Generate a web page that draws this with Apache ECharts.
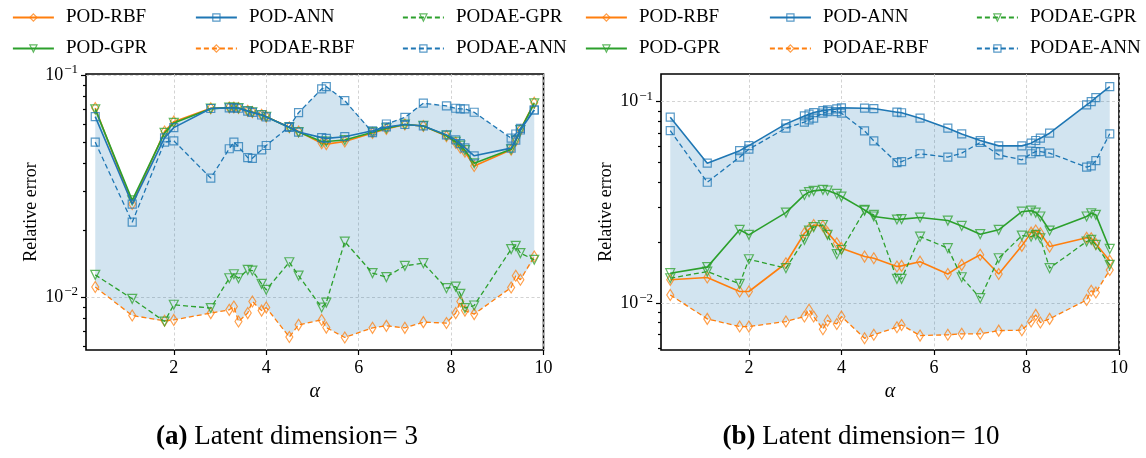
<!DOCTYPE html>
<html><head><meta charset="utf-8">
<script src="https://cdn.jsdelivr.net/npm/echarts@6/dist/echarts.min.js"></script>
<style>html,body{margin:0;padding:0;background:#fff}#c{width:1146px;height:458px}</style>
</head><body><div id="c"></div>
<script>
// ---------- data ----------
const alpha = [0.3, 1.1, 1.8, 2.0, 2.8, 3.2, 3.3, 3.4, 3.6, 3.7, 3.9, 4.0, 4.5, 4.7, 5.2, 5.3, 5.7, 6.3, 6.6, 7.0, 7.4, 7.9, 8.1, 8.2, 8.3, 8.5, 9.3, 9.4, 9.5, 9.8];
const seriesNames = ['POD-RBF', 'POD-GPR', 'POD-ANN', 'PODAE-RBF', 'PODAE-GPR', 'PODAE-ANN'];

// latent dimension = 3
const POD_RBF_3 = [0.0710, 0.0262, 0.0556, 0.0616, 0.0708, 0.0713, 0.0713, 0.0710, 0.0689, 0.0680, 0.0661, 0.0649, 0.0581, 0.0556, 0.0492, 0.0488, 0.0501, 0.0548, 0.0571, 0.0598, 0.0589, 0.0530, 0.0495, 0.0470, 0.0451, 0.0389, 0.0460, 0.0505, 0.0565, 0.0750];
const POD_GPR_3 = [0.0700, 0.0272, 0.0548, 0.0608, 0.0705, 0.0712, 0.0712, 0.0709, 0.0688, 0.0679, 0.0660, 0.0648, 0.0580, 0.0553, 0.0501, 0.0501, 0.0509, 0.0552, 0.0575, 0.0598, 0.0589, 0.0533, 0.0500, 0.0480, 0.0458, 0.0400, 0.0462, 0.0507, 0.0565, 0.0745];
const POD_ANN_3 = [0.0649, 0.0262, 0.0520, 0.0579, 0.0706, 0.0711, 0.0711, 0.0708, 0.0687, 0.0678, 0.0660, 0.0647, 0.0581, 0.0553, 0.0522, 0.0518, 0.0527, 0.0560, 0.0583, 0.0598, 0.0589, 0.0537, 0.0510, 0.0490, 0.0469, 0.0432, 0.0468, 0.0509, 0.0565, 0.0695];
const PODAE_RBF_3 = [0.01107, 0.00824, 0.00780, 0.00787, 0.00845, 0.00874, 0.00904, 0.00774, 0.00845, 0.00953, 0.00867, 0.00895, 0.00659, 0.00748, 0.00787, 0.00727, 0.00656, 0.00725, 0.00740, 0.00725, 0.00769, 0.00762, 0.00845, 0.00953, 0.00867, 0.00836, 0.01102, 0.01245, 0.01194, 0.01520];
const PODAE_GPR_3 = [0.01256, 0.00980, 0.00774, 0.00921, 0.00890, 0.01213, 0.01264, 0.01213, 0.01324, 0.01314, 0.01145, 0.01076, 0.01432, 0.01247, 0.00895, 0.00942, 0.01774, 0.01279, 0.01228, 0.01380, 0.01418, 0.01094, 0.01112, 0.01032, 0.00890, 0.00914, 0.01641, 0.01698, 0.01574, 0.01469];
const PODAE_ANN_3 = [0.0498, 0.0217, 0.0498, 0.0505, 0.0343, 0.0465, 0.0498, 0.0475, 0.0424, 0.0421, 0.0460, 0.0481, 0.0585, 0.0676, 0.0865, 0.0886, 0.0766, 0.0550, 0.0601, 0.0644, 0.0746, 0.0725, 0.0708, 0.0703, 0.0703, 0.0679, 0.0519, 0.0542, 0.0575, 0.0695];

// latent dimension = 10
const POD_RBF_10 = [0.01306, 0.01341, 0.01143, 0.01143, 0.01578, 0.02223, 0.02328, 0.02443, 0.02417, 0.02239, 0.01984, 0.01875, 0.01703, 0.01671, 0.01520, 0.01531, 0.01607, 0.01396, 0.01549, 0.01738, 0.01396, 0.01925, 0.02239, 0.02293, 0.02223, 0.01909, 0.02113, 0.02099, 0.01968, 0.01625];
const POD_GPR_10 = [0.01409, 0.01510, 0.02312, 0.02183, 0.02814, 0.03443, 0.03554, 0.03607, 0.03648, 0.03622, 0.03483, 0.03380, 0.02904, 0.02691, 0.02600, 0.02612, 0.02660, 0.02569, 0.02417, 0.02199, 0.02312, 0.02843, 0.02877, 0.02814, 0.02691, 0.02293, 0.02691, 0.02793, 0.02742, 0.01858];
const POD_ANN_10 = [0.0837, 0.0495, 0.0571, 0.0605, 0.0775, 0.0849, 0.0866, 0.0882, 0.0902, 0.0909, 0.0920, 0.0931, 0.0927, 0.0923, 0.0886, 0.0880, 0.0827, 0.0738, 0.0691, 0.0641, 0.0603, 0.0603, 0.0622, 0.0641, 0.0658, 0.0697, 0.0963, 0.1000, 0.1047, 0.1187];
const PODAE_RBF_10 = [0.01099, 0.00836, 0.00766, 0.00766, 0.00811, 0.00859, 0.00927, 0.00859, 0.00743, 0.00820, 0.00789, 0.00859, 0.00670, 0.00697, 0.00760, 0.00780, 0.00691, 0.00697, 0.00705, 0.00705, 0.00731, 0.00735, 0.00811, 0.00875, 0.00802, 0.00836, 0.01038, 0.01153, 0.01130, 0.01462];
const PODAE_GPR_10 = [0.01330, 0.01435, 0.01247, 0.01652, 0.01492, 0.02061, 0.02293, 0.02382, 0.02443, 0.02183, 0.01750, 0.01836, 0.02877, 0.02742, 0.01321, 0.01321, 0.02138, 0.01875, 0.01345, 0.01059, 0.01671, 0.02163, 0.02138, 0.02183, 0.02099, 0.01492, 0.02023, 0.02061, 0.01945, 0.01549];
const PODAE_ANN_10 = [0.0718, 0.0398, 0.0530, 0.0581, 0.0738, 0.0791, 0.0811, 0.0827, 0.0876, 0.0892, 0.0892, 0.0876, 0.0716, 0.0638, 0.0498, 0.0504, 0.0551, 0.0530, 0.0555, 0.0627, 0.0544, 0.0514, 0.0551, 0.0565, 0.0565, 0.0555, 0.0473, 0.0480, 0.0509, 0.0692];

const xTickValues = [2, 4, 6, 8, 10];
const yMajorTicks = [0.01, 0.1];
const yMinorTicks = [0.005, 0.006, 0.007, 0.008, 0.009, 0.02, 0.03, 0.04, 0.05, 0.06, 0.07, 0.08, 0.09, 0.2];
const captionLabels = ['(a)', '(b)'];
const captionTexts = ['Latent dimension= 3', 'Latent dimension= 10'];

const panelData = [
  [POD_RBF_3, POD_GPR_3, POD_ANN_3, PODAE_RBF_3, PODAE_GPR_3, PODAE_ANN_3],
  [POD_RBF_10, POD_GPR_10, POD_ANN_10, PODAE_RBF_10, PODAE_GPR_10, PODAE_ANN_10]
];

// ---------- layout / style ----------
const FONT = 'Liberation Serif';
const COLORS = { RBF: '#ff7f0e', GPR: '#2ca02c', ANN: '#1f77b4' };
const SYMBOLS = { RBF: 'diamond', GPR: 'path://M0,0L10,0L5,9Z', ANN: 'rect' };
const SYMSIZE = { RBF: [7, 11], GPR: 9, ANN: 8 };
const layout = [
  { left: 86, width: 457.5, ymin: 0.00576, ymax: 0.101, capX: 287 },
  { left: 661, width: 458, ymin: 0.00586, ymax: 0.137, capX: 861 }
];
const TOP = 74, HEIGHT = 276;

const grids = [], xAxes = [], yAxes = [], series = [];
const tickLine = { color: '#000', width: 1.2 };
const gridLine = { color: '#c8c8c8', width: 0.8, type: [3, 2.5] };

layout.forEach((L, gi) => {
  grids.push({ left: L.left, top: TOP, width: L.width, height: HEIGHT, show: true,
    borderColor: '#000', borderWidth: 1.6, backgroundColor: 'rgba(0,0,0,0)', containLabel: false, outerBoundsMode: 'none' });
  xAxes.push({
    gridIndex: gi, type: 'value', min: 0.1, max: 10,
    axisLine: { show: false },
    axisTick: { show: true, length: 5, lineStyle: tickLine, customValues: xTickValues },
    axisLabel: { customValues: xTickValues, margin: 9, fontFamily: FONT, fontSize: 18, color: '#000' },
    splitLine: { show: true, lineStyle: gridLine },
    name: 'α', nameLocation: 'middle', nameGap: 29,
    nameTextStyle: { fontFamily: FONT, fontStyle: 'italic', fontSize: 20, color: '#000' }
  });
  yAxes.push({
    gridIndex: gi, type: 'log', logBase: 10, min: L.ymin, max: L.ymax, position: 'left',
    axisLine: { show: false },
    axisTick: { show: true, length: 5, lineStyle: tickLine, customValues: yMajorTicks },
    axisLabel: {
      customValues: yMajorTicks, margin: 8, color: '#000',
      formatter: v => '{b|10}{s|−' + Math.round(-Math.log10(v)) + '}',
      rich: {
        b: { fontFamily: FONT, fontSize: 18, color: '#000' },
        s: { fontFamily: FONT, fontSize: 13, color: '#000', padding: [0, 0, 10, 1] }
      }
    },
    splitLine: { show: true, lineStyle: gridLine },
    minorTick: { show: false },
    name: 'Relative error', nameLocation: 'middle', nameGap: 46,
    nameTextStyle: { fontFamily: FONT, fontSize: 18, color: '#000' }
  });
  yAxes.push({
    gridIndex: gi, type: 'log', logBase: 10, min: L.ymin, max: L.ymax, position: 'left',
    axisLine: { show: false },
    axisTick: { show: true, length: 3, lineStyle: tickLine, customValues: yMinorTicks },
    axisLabel: { show: false },
    splitLine: { show: false }
  });

  const vals = panelData[gi];
  const low = alpha.map((a, i) => Math.min(...vals.map(v => v[i])));
  const high = alpha.map((a, i) => Math.max(...vals.map(v => v[i])));
  // shaded band between the lowest and highest error at each alpha
  series.push({
    type: 'custom', name: 'envelope-' + gi, xAxisIndex: gi, yAxisIndex: gi * 2,
    data: [[alpha[0], low[0]]], silent: true, z: 1, animation: false,
    renderItem: (params, api) => {
      const upper = alpha.map((a, i) => api.coord([a, high[i]]));
      const lower = alpha.map((a, i) => api.coord([a, low[i]])).reverse();
      return { type: 'polygon', shape: { points: upper.concat(lower) },
        style: { fill: 'rgba(31,119,180,0.2)', stroke: 'none' } };
    }
  });
  seriesNames.forEach((name, si) => {
    const kind = name.split('-')[1];
    const dashed = name.startsWith('PODAE');
    series.push({
      type: 'line', name, xAxisIndex: gi, yAxisIndex: gi * 2,
      data: alpha.map((a, i) => [a, vals[si][i]]),
      symbol: SYMBOLS[kind], symbolSize: SYMSIZE[kind], showSymbol: true,
      lineStyle: { color: COLORS[kind], width: dashed ? 1.3 : 1.6, type: dashed ? [5, 3] : 'solid' },
      itemStyle: { color: 'rgba(255,255,255,0)', borderColor: COLORS[kind], borderWidth: 1.2, opacity: 0.75 },
      emphasis: { disabled: true }, z: 3 + si, animation: false
    });
  });
});

// legends: 3 columns x 2 rows per panel
const legendCols = [[0, 1], [2, 3], [4, 5]];
const legendX = [[7, 190, 397], [580, 764, 971]];
const legends = [];
legendX.forEach(xs => xs.forEach((x, ci) => {
  legends.push({
    left: x, top: 3, orient: 'vertical', itemGap: 12, itemWidth: 41, itemHeight: 9,
    selectedMode: false, data: legendCols[ci].map(k => seriesNames[k]),
    textStyle: { fontFamily: FONT, fontSize: 19, color: '#000', padding: [0, 0, 0, 7] },
    itemStyle: { borderWidth: 1.2 }, lineStyle: { width: 1.8 }
  });
}));

const graphics = layout.map((L, gi) => ({
  type: 'text', x: L.capX, y: 437,
  style: {
    text: '{b|' + captionLabels[gi] + '} ' + captionTexts[gi],
    align: 'center', verticalAlign: 'middle',
    fontFamily: FONT, fontSize: 27, fill: '#000',
    rich: { b: { fontFamily: FONT, fontSize: 27, fontWeight: 'bold', fill: '#000' } }
  }
}));

const chart = echarts.init(document.getElementById('c'), null, { renderer: 'canvas' });
chart.setOption({
  animation: false, backgroundColor: '#fff',
  grid: grids, xAxis: xAxes, yAxis: yAxes, series, legend: legends, graphic: graphics
});
</script></body></html>
